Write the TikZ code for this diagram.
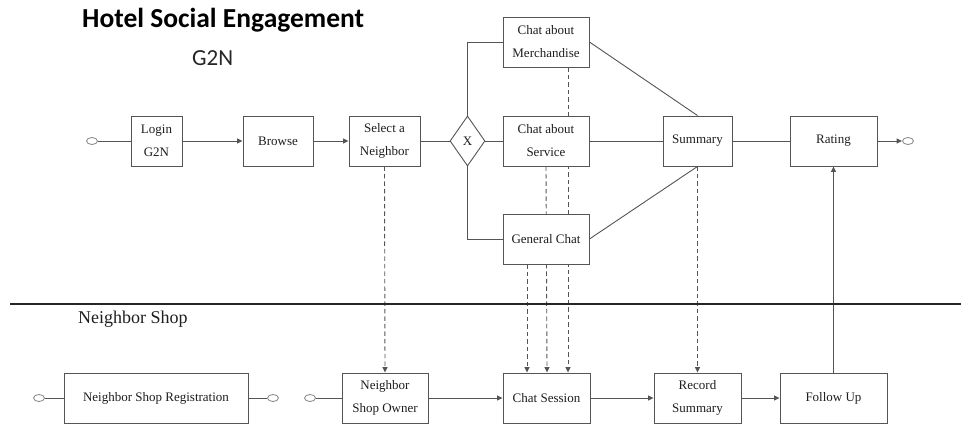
\documentclass[tikz,border=0pt]{standalone}
\usepackage{fontspec}
\setmainfont{Liberation Serif}
\newfontfamily\titlefont{Carlito}
\usetikzlibrary{arrows.meta,shapes.geometric,backgrounds}
\definecolor{linegray}{HTML}{555555}
\definecolor{circgray}{HTML}{8A8F96}
\definecolor{txt}{HTML}{1E1E1E}
\begin{document}
\begin{tikzpicture}[x=1pt,y=-1pt,
  box/.style={draw=linegray, line width=0.9pt, fill=white, inner sep=0pt, align=center, text=txt,
     font=\fontsize{13}{23}\selectfont, minimum height=50},
  ev/.style={ellipse, draw=circgray, line width=0.9pt, fill=white, minimum width=11, minimum height=7, inner sep=0pt},
  gate/.style={diamond, draw=linegray, line width=0.9pt, fill=white, inner sep=0pt, minimum width=35, minimum height=50, aspect=0.7, font=\fontsize{13}{15}\selectfont, text=txt},
  ln/.style={draw=linegray, line width=0.9pt},
  arr/.style={ln, -{Triangle[length=5.5pt,width=5pt]}},
  dsh/.style={ln, dash pattern=on 4.5pt off 3pt},
  darr/.style={dsh, -{Triangle[length=5.5pt,width=5pt]}},
  lane/.style={draw=black!85, line width=1.3pt}]
\useasboundingbox (0,0) rectangle (961,426);

% titles
\node[anchor=west, inner sep=0pt, font=\titlefont\bfseries\fontsize{27.5}{30}\selectfont, text=black] (title) at (82,20) {Hotel Social Engagement};
\node[anchor=west, inner sep=0pt, font=\titlefont\fontsize{23}{25}\selectfont, text=black!85] (g2n) at (192,58) {G2N};
\node[anchor=west, inner sep=0pt, font=\fontsize{18}{20}\selectfont, text=txt] (nshop) at (78,319) {Neighbor Shop};

% lane separator
\draw[lane] (10,304) -- (961,304);

% top row
\node[ev] (s1) at (92,141) {};
\node[box, minimum width=51] (login) at (156.5,141) {Login\\G2N};
\node[box, minimum width=70] (browse) at (278,141) {Browse};
\node[box, minimum width=71] (sel) at (384.5,141) {Select a\\Neighbor};
\node[gate] (dia) at (467.5,141) {X};
\node[box, minimum width=86] (merch) at (546,42) {Chat about\\Merchandise};
\node[box, minimum width=86] (serv) at (546,141) {Chat about\\Service};
\node[box, minimum width=86] (gen) at (546,239) {General Chat};
\node[box, minimum width=69] (sum) at (697.5,141) {Summary};
\node[box, minimum width=87] (rate) at (833.5,141) {Rating};
\node[ev] (e1) at (908,141) {};

% bottom row
\node[ev] (s2) at (39,398) {};
\node[box, minimum width=184] (reg) at (156,398) {Neighbor Shop Registration};
\node[ev] (e2) at (273,398) {};
\node[ev] (s3) at (310,398) {};
\node[box, minimum width=86] (owner) at (385,398) {Neighbor\\Shop Owner};
\node[box, minimum width=87] (chat) at (546.5,398) {Chat Session};
\node[box, minimum width=87] (rec) at (697.5,398) {Record\\Summary};
\node[box, minimum width=107] (fu) at (833.5,398) {Follow Up};

\begin{scope}[on background layer]
\draw[ln] (s1) -- (login);
\draw[arr] (login) -- (browse);
\draw[arr] (browse) -- (sel);
\draw[ln] (sel) -- (dia);
\draw[ln] (dia) -- (serv);
\draw[ln] (dia.north) |- (merch.west);
\draw[ln] (dia.south) |- (gen.west);
\draw[ln] (merch.east) -- (sum.north);
\draw[ln] (serv) -- (sum);
\draw[ln] (gen.east) -- (sum.south);
\draw[ln] (sum) -- (rate);
\draw[arr] (rate) -- (e1);
\draw[arr] (fu.north) -- (rate.south);

\draw[darr] (sel.south) -- (owner.north);
\draw[darr] (sum.south) -- (rec.north);
\draw[darr] ([xshift=22pt]merch.south) -- ([xshift=21.5pt]chat.north);
\draw[darr] (serv.south) -- ([xshift=0.5pt]chat.north);
\draw[darr] ([xshift=-19pt]gen.south) -- ([xshift=-19.5pt]chat.north);

\draw[ln] (s2) -- (reg);
\draw[ln] (reg) -- (e2);
\draw[ln] (s3) -- (owner);
\draw[arr] (owner) -- (chat);
\draw[arr] (chat) -- (rec);
\draw[arr] (rec) -- (fu);
\end{scope}
\end{tikzpicture}
\end{document}
